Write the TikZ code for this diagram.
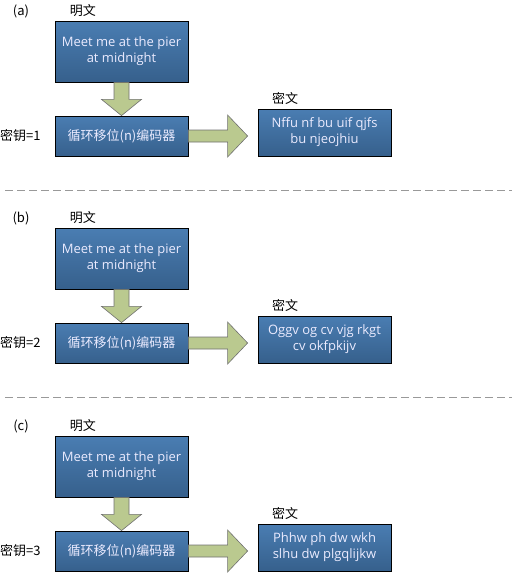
\documentclass[tikz,border=0pt]{standalone}
\usepackage{fontspec}
\setmainfont{Open Sans}
\newfontfamily\cjk{Noto Sans CJK SC}
\usetikzlibrary{calc}

\definecolor{boxtop}{RGB}{74,125,178}
\definecolor{boxbot}{RGB}{54,96,140}
\definecolor{arrowfill}{RGB}{186,201,143}
\definecolor{arrowline}{RGB}{112,112,112}

\begin{document}
\begin{tikzpicture}[x=1pt,y=-1pt,
    textbox/.style={draw=black, line width=0.8pt, top color=boxtop, bottom color=boxbot,
        text=white!92!blue, minimum width=133pt, align=center, inner sep=0pt,
        font=\fontsize{13}{16}\selectfont},
    cjkbox/.style={textbox, font=\cjk\fontsize{13}{16}\selectfont},
    caption/.style={font=\cjk\fontsize{13}{15}\selectfont},
    blockarrow/.style={fill=arrowfill, draw=arrowline, line width=0.6pt, line join=miter},
    downblock/.style={blockarrow, to path={($(\tikztostart.south)+(-7.5,0)$) -- ++(0,17) -- ++(-12.5,0)
        -- (\tikztotarget.north) -- ($(\tikztostart.south)+(20,17)$) -- ++(-12.5,0) -- ++(0,-17) -- cycle}},
    rightblock/.style={blockarrow, to path={($(\tikztostart.east)+(0,-6)$)
        -- ($(\tikztotarget.west |- \tikztostart.east)+(-30,-6)$) -- ++(0,-15)
        -- ($(\tikztotarget.west |- \tikztostart.east)+(-10,0)$) -- ++(-20,21) -- ++(0,-15)
        -- ($(\tikztostart.east)+(0,6)$) -- cycle}},
    sepline/.style={draw=gray!80, line width=0.8pt, dash pattern=on 8pt off 4pt}]

    \useasboundingbox (0,0) rectangle (516,574);

    % (a) Schluessel 1
    \node[caption] (tagA) at (21,11) {(a)};
    \node[caption] (ptA) at (83,11) {明文};
    \node[textbox, minimum height=61pt] (plainA) at (121.5,51.5) {Meet me at the pier\\at midnight};
    \node[cjkbox, minimum height=40pt] (encA) at (121.5,136) {循环移位(n)编码器};
    \node[caption, anchor=east] (keyA) at (44,136) {密钥=1};
    \node[caption] (ctA) at (285,98) {密文};
    \node[textbox, minimum height=47pt] (ciphA) at (324.5,132.5) {Nffu nf bu uif qjfs\\bu njeojhiu};
    \draw[downblock] (plainA) to (encA);
    \draw[rightblock] (encA) to (ciphA);

    \draw[sepline] (5,190) -- (512,190);

    % (b) Schluessel 2
    \begin{scope}[shift={(0,207)}]
    \node[caption] (tagB) at (21,11) {(b)};
    \node[caption] (ptB) at (83,11) {明文};
    \node[textbox, minimum height=61pt] (plainB) at (121.5,51.5) {Meet me at the pier\\at midnight};
    \node[cjkbox, minimum height=40pt] (encB) at (121.5,136) {循环移位(n)编码器};
    \node[caption, anchor=east] (keyB) at (44,136) {密钥=2};
    \node[caption] (ctB) at (285,98) {密文};
    \node[textbox, minimum height=47pt] (ciphB) at (324.5,132.5) {Oggv og cv vjg rkgt\\cv okfpkijv};
    \draw[downblock] (plainB) to (encB);
    \draw[rightblock] (encB) to (ciphB);
    \end{scope}

    \draw[sepline] (5,397) -- (512,397);

    % (c) Schluessel 3
    \begin{scope}[shift={(0,415)}]
    \node[caption] (tagC) at (21,11) {(c)};
    \node[caption] (ptC) at (83,11) {明文};
    \node[textbox, minimum height=61pt] (plainC) at (121.5,51.5) {Meet me at the pier\\at midnight};
    \node[cjkbox, minimum height=40pt] (encC) at (121.5,136) {循环移位(n)编码器};
    \node[caption, anchor=east] (keyC) at (44,136) {密钥=3};
    \node[caption] (ctC) at (285,98) {密文};
    \node[textbox, minimum height=47pt] (ciphC) at (324.5,132.5) {Phhw ph dw wkh\\slhu dw plgqlijkw};
    \draw[downblock] (plainC) to (encC);
    \draw[rightblock] (encC) to (ciphC);
    \end{scope}

\end{tikzpicture}
\end{document}
